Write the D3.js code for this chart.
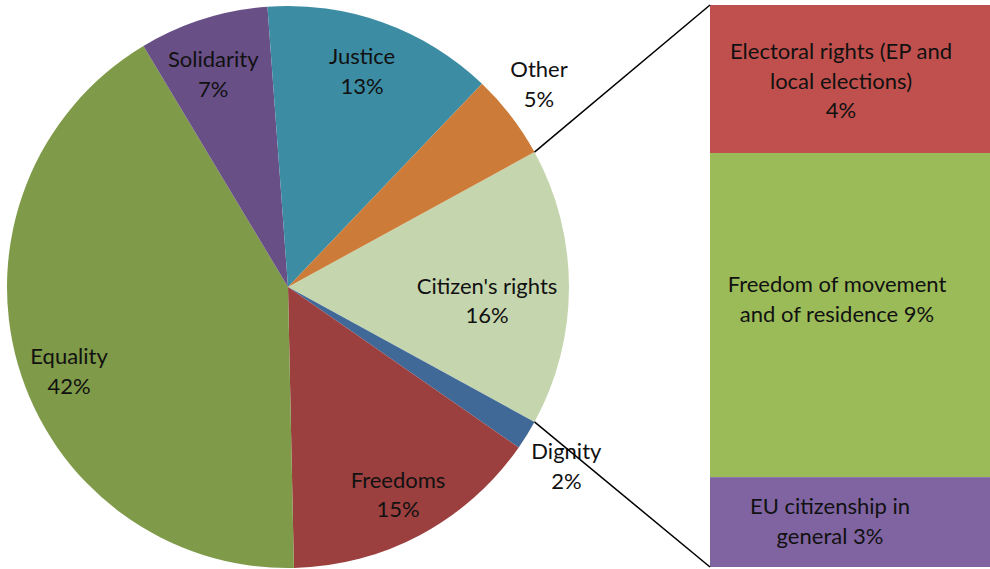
<!DOCTYPE html>
<html>
<head>
<meta charset="utf-8">
<script src="https://d3js.org/d3.v7.min.js"></script>
<style>
  body { margin: 0; background: #fff; }
  text { font-family: Lato, "Open Sans", sans-serif; font-size: 22px; fill: #111; }
</style>
</head>
<body>
<script>
// pie slices, clockwise from the top edge of the split-off slice
var pieNames  = ["Citizen's rights", "Dignity", "Freedoms", "Equality", "Solidarity", "Justice", "Other"];
var pieValues = [15.95, 1.7, 15.0, 41.75, 7.44, 13.3, 4.9];
var pieColors = ["#c5d6ae", "#416998", "#9b3f3f", "#7f9a48", "#684f86", "#3c8ca3", "#cc7b38"];

// breakdown of Citizen's rights, top to bottom
var barNames  = [["Electoral rights (EP and", "local elections)"], ["Freedom of movement", "and of residence"], ["EU citizenship in", "general"]];
var barValues = [4.2, 9.2, 2.55];
var barColors = ["#c0504d", "#9bbb59", "#8064a2"];

var width = 990, height = 569,
    cx = 288, cy = 287, radius = 281,
    barX = 710, barW = 280, barTop = 5, barBottom = 567,
    lineH = 29.5;

var svg = d3.select('body').append('svg')
    .attr('width', width)
    .attr('height', height);

var total = d3.sum(pieValues);
var citizenAngle = pieValues[0] / total * 2 * Math.PI;

var pie = d3.pie().sort(null)
    .startAngle(Math.PI / 2 - citizenAngle / 2)
    .endAngle(Math.PI / 2 - citizenAngle / 2 + 2 * Math.PI);

var arcs = pie(pieValues);
var arc = d3.arc().innerRadius(0).outerRadius(radius);

var g = svg.append('g').attr('transform', 'translate(' + cx + ',' + cy + ')');

g.selectAll('path')
  .data(arcs)
  .enter()
  .append('path')
    .attr('d', arc)
    .attr('fill', function(d, i) { return pieColors[i]; });

// label placement: radius fraction and small angle nudge (degrees)
var labelR     = [0.71, 1.178, 0.837, 0.835, 0.802, 0.812, 1.148];
var labelShift = [4, 1, 0.3, -5, -1.8, -0.8, -1.4];

function drawLines(parent, x, yMid, lines) {
  var t = parent.append('text').attr('text-anchor', 'middle');
  lines.forEach(function(s, k) {
    t.append('tspan')
      .attr('x', x)
      .attr('y', yMid + (k - (lines.length - 1) / 2) * lineH)
      .attr('dy', '0.35em')
      .text(s);
  });
}

arcs.forEach(function(d, i) {
  var a = (d.startAngle + d.endAngle) / 2 + labelShift[i] * Math.PI / 180,
      r = radius * labelR[i];
  var pct = Math.round(d.value / total * 100) + '%';
  drawLines(g, Math.sin(a) * r, -Math.cos(a) * r, [pieNames[i], pct]);
});

// stacked bar
var y = d3.scaleLinear().domain([0, d3.sum(barValues)]).range([barTop, barBottom]);
var stackStart = [];
barValues.reduce(function(acc, v, i) { stackStart[i] = acc; return acc + v; }, 0);

svg.selectAll('rect.seg')
  .data(barValues)
  .enter()
  .append('rect')
    .attr('class', 'seg')
    .attr('x', barX)
    .attr('width', barW)
    .attr('y', function(d, i) { return y(stackStart[i]); })
    .attr('height', function(d, i) { return y(stackStart[i] + d) - y(stackStart[i]); })
    .attr('fill', function(d, i) { return barColors[i]; });

// connectors from the split slice to the bar corners
var a0 = arcs[0].startAngle, a1 = arcs[0].endAngle;
svg.append('line')
  .attr('x1', cx + Math.sin(a0) * radius).attr('y1', cy - Math.cos(a0) * radius)
  .attr('x2', barX).attr('y2', y(0))
  .attr('stroke', '#000').attr('stroke-width', 1.5);
svg.append('line')
  .attr('x1', cx + Math.sin(a1) * radius).attr('y1', cy - Math.cos(a1) * radius)
  .attr('x2', barX).attr('y2', y(d3.sum(barValues)))
  .attr('stroke', '#000').attr('stroke-width', 1.5);

// bar labels: small shifts from segment centre like the original
var barLabelDx = [-9, -13, -20],
    barLabelDy = [2, -16, -1];

barValues.forEach(function(v, i) {
  var mid = (y(stackStart[i]) + y(stackStart[i] + v)) / 2 + barLabelDy[i];
  var lx = barX + barW / 2 + barLabelDx[i];
  var pct = Math.round(v / total * 100) + '%';
  var lines = barNames[i].slice();
  if (i === 0) lines.push(pct);
  else lines[lines.length - 1] += ' ' + pct;
  drawLines(svg, lx, mid, lines);
});
</script>
</body>
</html>
